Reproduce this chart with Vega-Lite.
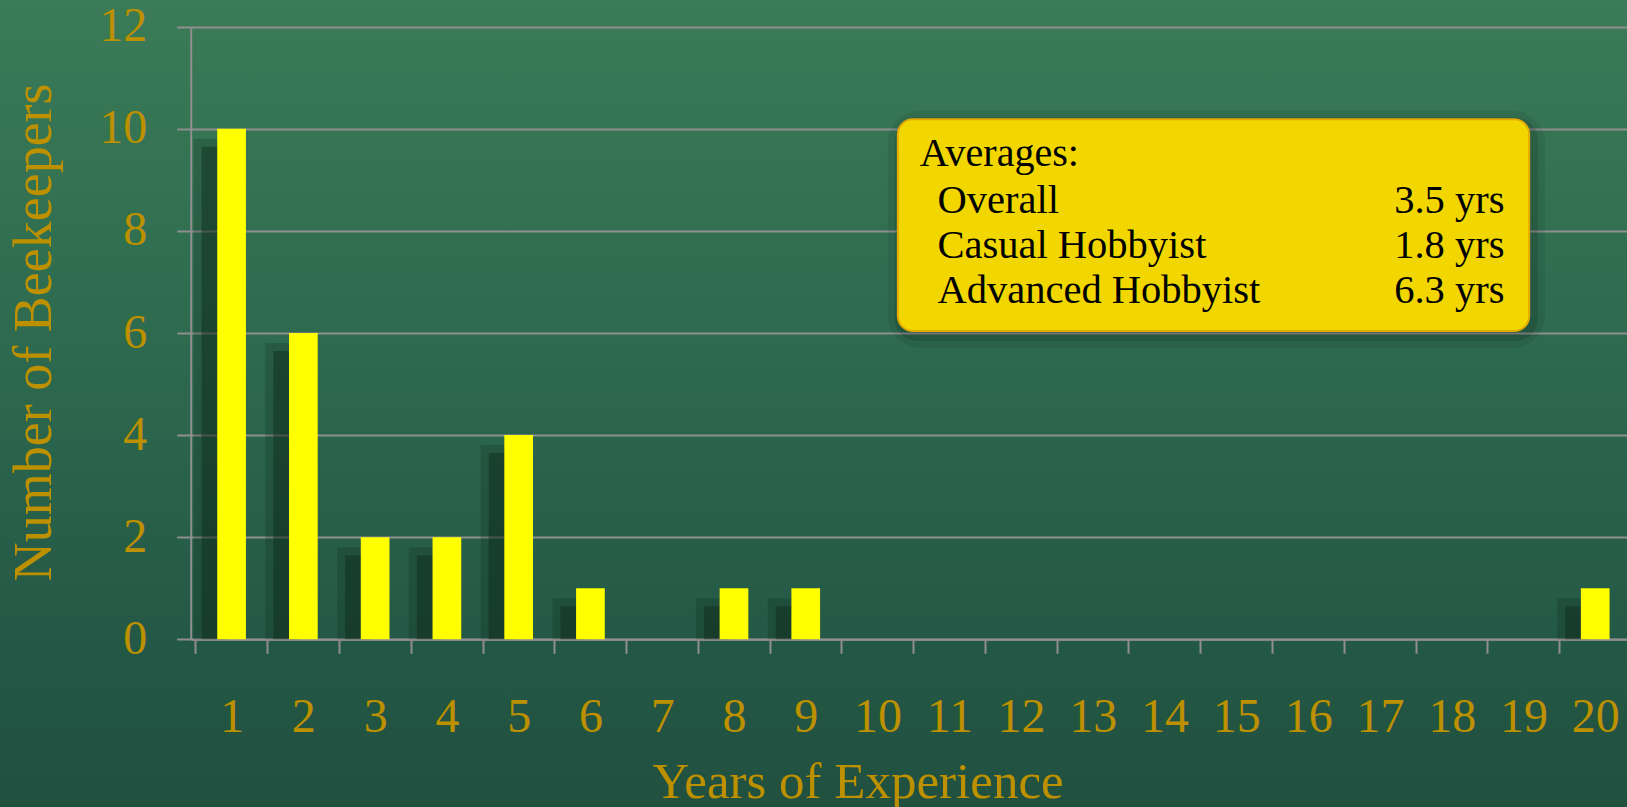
{
  "$schema": "https://vega.github.io/schema/vega-lite/v6.json",
  "autosize": "none",
  "width": 1627,
  "height": 807,
  "padding": 0,
  "background": "#2a6049",
  "config": {
    "font": "Liberation Serif",
    "view": {
      "stroke": null,
      "fill": {
        "gradient": "linear",
        "x1": 0, "y1": 0, "x2": 0, "y2": 1,
        "stops": [
          {"offset": 0, "color": "#3b7b57"},
          {"offset": 0.4, "color": "#2e6b4f"},
          {"offset": 0.8, "color": "#245846"},
          {"offset": 1, "color": "#21503f"}
        ]
      }
    },
    "axis": {
      "domainColor": "#8f8f8f",
      "domainWidth": 2,
      "tickColor": "#8f8f8f",
      "tickWidth": 2,
      "tickSize": 14,
      "gridColor": "#8f8f8f",
      "gridWidth": 2,
      "labelColor": "#bd9000",
      "titleColor": "#bd9000",
      "labelFont": "Liberation Serif",
      "titleFont": "Liberation Serif",
      "labelFontSize": 48,
      "titleFontWeight": "normal",
      "labelOverlap": false,
      "labelFlush": false
    }
  },
  "datasets": {
    "experience": [
      {"years": 1, "beekeepers": 10},
      {"years": 2, "beekeepers": 6},
      {"years": 3, "beekeepers": 2},
      {"years": 4, "beekeepers": 2},
      {"years": 5, "beekeepers": 4},
      {"years": 6, "beekeepers": 1},
      {"years": 7, "beekeepers": 0},
      {"years": 8, "beekeepers": 1},
      {"years": 9, "beekeepers": 1},
      {"years": 10, "beekeepers": 0},
      {"years": 11, "beekeepers": 0},
      {"years": 12, "beekeepers": 0},
      {"years": 13, "beekeepers": 0},
      {"years": 14, "beekeepers": 0},
      {"years": 15, "beekeepers": 0},
      {"years": 16, "beekeepers": 0},
      {"years": 17, "beekeepers": 0},
      {"years": 18, "beekeepers": 0},
      {"years": 19, "beekeepers": 0},
      {"years": 20, "beekeepers": 1}
    ],
    "averages": [
      {"group": "Overall", "avg": "3.5 yrs"},
      {"group": "Casual Hobbyist", "avg": "1.8 yrs"},
      {"group": "Advanced Hobbyist", "avg": "6.3 yrs"}
    ]
  },
  "layer": [
    {
      "data": {"name": "experience"},
      "transform": [{"filter": "datum.beekeepers > 0"}],
      "mark": {
        "type": "bar",
        "width": 36,
        "fill": "#0c2519",
        "fillOpacity": 0.22,
        "xOffset": -20,
        "yOffset": 10,
        "y2Offset": 0
      },
      "encoding": {
        "x": {
          "field": "years", "type": "quantitative",
          "scale": {"domain": [0.5, 20.5], "range": [190.7, 1636.1], "nice": false, "zero": false},
          "axis": {
            "title": "Years of Experience",
            "offset": -167.7,
            "grid": false,
            "values": [1,2,3,4,5,6,7,8,9,10,11,12,13,14,15,16,17,18,19,20],
            "format": "d",
            "tickOffset": -36.135,
            "labelOffset": 36.135,
            "labelAlign": "center",
            "labelBaseline": "alphabetic",
            "labelPadding": 78.4,
            "titleFontSize": 51,
            "titleX": 857.6,
            "titleY": 157.7,
            "titleAlign": "center",
            "titleBaseline": "alphabetic"
          }
        },
        "y": {
          "field": "beekeepers", "type": "quantitative",
          "scale": {"domain": [0, 12], "range": [639.3, 26.7], "nice": false},
          "axis": {
            "title": "Number of Beekeepers",
            "offset": -190.7,
            "values": [0, 2, 4, 6, 8, 10, 12],
            "format": "d",
            "grid": true,
            "labelPadding": 30,
            "labelBaseline": "middle",
            "titleFontSize": 54,
            "titleAngle": 270,
            "titleX": -140,
            "titleY": 331.8,
            "titleAlign": "center",
            "titleBaseline": "alphabetic"
          }
        },
        "y2": {"datum": 0}
      }
    },
    {
      "data": {"name": "experience"},
      "transform": [{"filter": "datum.beekeepers > 0"}],
      "mark": {
        "type": "bar",
        "width": 24,
        "fill": "#0c2519",
        "fillOpacity": 0.42,
        "xOffset": -18,
        "yOffset": 18,
        "y2Offset": 0
      },
      "encoding": {
        "x": {"field": "years", "type": "quantitative"},
        "y": {"field": "beekeepers", "type": "quantitative"},
        "y2": {"datum": 0}
      }
    },
    {
      "data": {"name": "experience"},
      "mark": {"type": "bar", "width": 28.7, "fill": "#ffff00"},
      "encoding": {
        "x": {"field": "years", "type": "quantitative", "title": "Years of Experience"},
        "y": {"field": "beekeepers", "type": "quantitative", "title": "Number of Beekeepers"}
      }
    },
    {
      "data": {"values": [{"label": "Averages:"}]},
      "mark": {
        "type": "rect",
        "fill": null,
        "stroke": "#000000",
        "strokeOpacity": 0.07,
        "strokeWidth": 26,
        "cornerRadius": 20,
        "xOffset": 3, "x2Offset": 3, "yOffset": 4, "y2Offset": 4
      },
      "encoding": {
        "x": {"datum": 10.283},
        "x2": {"datum": 19.08},
        "y": {"datum": 10.186},
        "y2": {"datum": 6.039}
      }
    },
    {
      "data": {"values": [{"label": "Averages:"}]},
      "mark": {
        "type": "rect",
        "fill": null,
        "stroke": "#000000",
        "strokeOpacity": 0.12,
        "strokeWidth": 12,
        "cornerRadius": 17,
        "xOffset": 3, "x2Offset": 3, "yOffset": 4, "y2Offset": 4
      },
      "encoding": {
        "x": {"datum": 10.283},
        "x2": {"datum": 19.08},
        "y": {"datum": 10.186},
        "y2": {"datum": 6.039}
      }
    },
    {
      "data": {"values": [{"label": "Averages:"}]},
      "mark": {
        "type": "rect",
        "fill": "#f1d600",
        "stroke": "#e3a900",
        "strokeWidth": 2,
        "cornerRadius": 15
      },
      "encoding": {
        "x": {"datum": 10.283},
        "x2": {"datum": 19.08},
        "y": {"datum": 10.186},
        "y2": {"datum": 6.039}
      }
    },
    {
      "data": {"values": [{"label": "Averages:"}]},
      "mark": {
        "type": "text",
        "align": "left",
        "baseline": "alphabetic",
        "font": "Liberation Serif",
        "fontSize": 40,
        "color": "#000000"
      },
      "encoding": {
        "x": {"datum": 10.587},
        "y": {"datum": 9.271},
        "text": {"field": "label"}
      }
    },
    {
      "data": {"name": "averages"},
      "transform": [{"filter": "datum.group === 'Overall'"}],
      "mark": {"type": "text", "align": "left", "baseline": "alphabetic", "font": "Liberation Serif", "fontSize": 40.5, "color": "#000000"},
      "encoding": {"x": {"datum": 10.836}, "y": {"datum": 8.357}, "text": {"field": "group"}}
    },
    {
      "data": {"name": "averages"},
      "transform": [{"filter": "datum.group === 'Overall'"}],
      "mark": {"type": "text", "align": "right", "baseline": "alphabetic", "font": "Liberation Serif", "fontSize": 40.5, "color": "#000000"},
      "encoding": {"x": {"datum": 18.736}, "y": {"datum": 8.357}, "text": {"field": "avg"}}
    },
    {
      "data": {"name": "averages"},
      "transform": [{"filter": "datum.group === 'Casual Hobbyist'"}],
      "mark": {"type": "text", "align": "left", "baseline": "alphabetic", "font": "Liberation Serif", "fontSize": 40.5, "color": "#000000"},
      "encoding": {"x": {"datum": 10.836}, "y": {"datum": 7.469}, "text": {"field": "group"}}
    },
    {
      "data": {"name": "averages"},
      "transform": [{"filter": "datum.group === 'Casual Hobbyist'"}],
      "mark": {"type": "text", "align": "right", "baseline": "alphabetic", "font": "Liberation Serif", "fontSize": 40.5, "color": "#000000"},
      "encoding": {"x": {"datum": 18.736}, "y": {"datum": 7.469}, "text": {"field": "avg"}}
    },
    {
      "data": {"name": "averages"},
      "transform": [{"filter": "datum.group === 'Advanced Hobbyist'"}],
      "mark": {"type": "text", "align": "left", "baseline": "alphabetic", "font": "Liberation Serif", "fontSize": 40.5, "color": "#000000"},
      "encoding": {"x": {"datum": 10.836}, "y": {"datum": 6.587}, "text": {"field": "group"}}
    },
    {
      "data": {"name": "averages"},
      "transform": [{"filter": "datum.group === 'Advanced Hobbyist'"}],
      "mark": {"type": "text", "align": "right", "baseline": "alphabetic", "font": "Liberation Serif", "fontSize": 40.5, "color": "#000000"},
      "encoding": {"x": {"datum": 18.736}, "y": {"datum": 6.587}, "text": {"field": "avg"}}
    }
  ]
}
